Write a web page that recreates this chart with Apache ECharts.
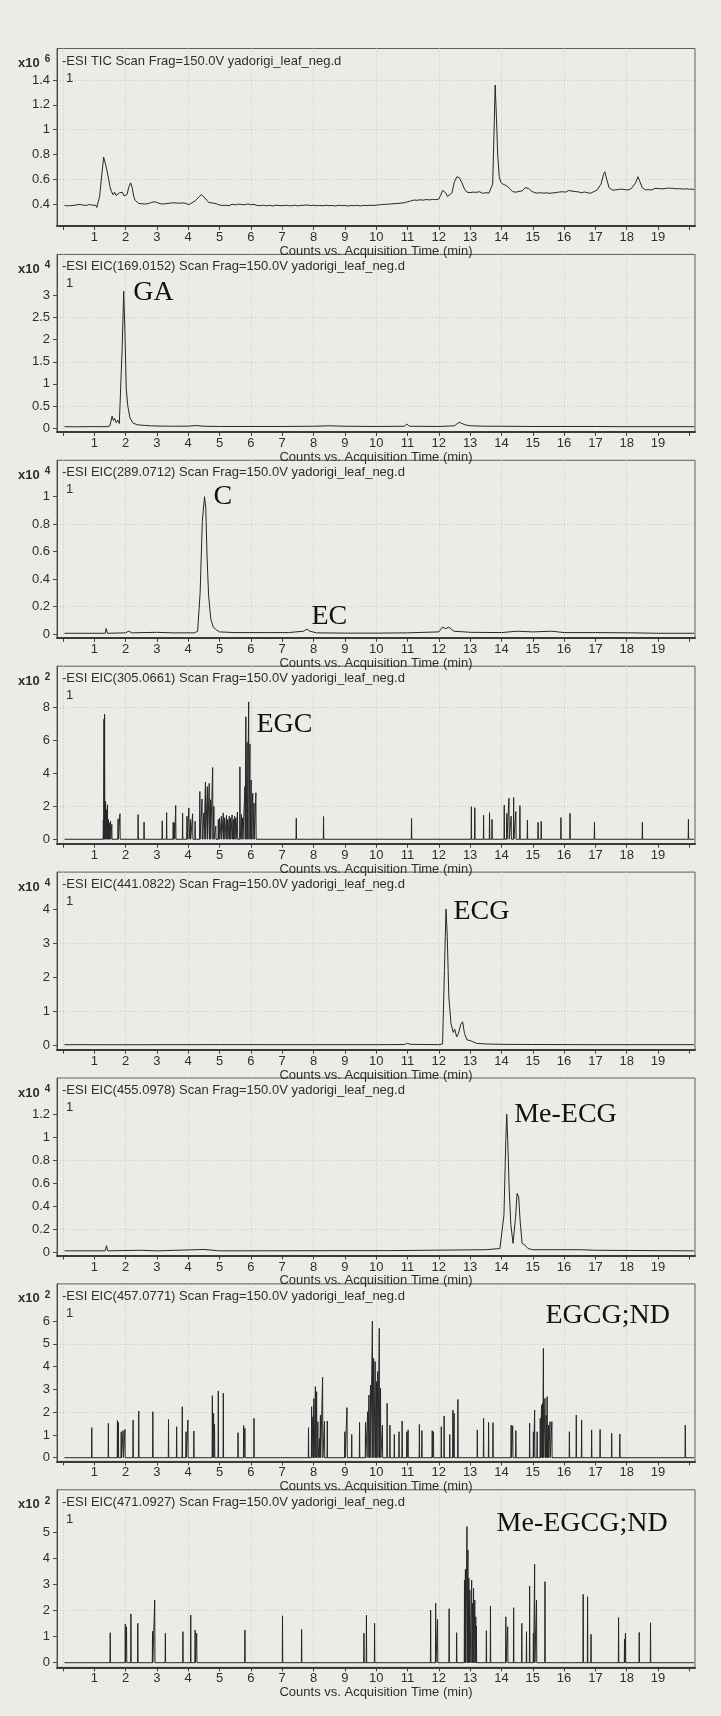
<!DOCTYPE html>
<html>
<head>
<meta charset="utf-8">
<script src="https://cdn.jsdelivr.net/npm/echarts@6/dist/echarts.min.js"></script>
<style>
  html, body { margin: 0; padding: 0; background: #ebebe7; }
  #chart { width: 721px; height: 1716px; }
</style>
</head>
<body>
<div id="chart"></div>
<script>
// ---- axis ticks and labels ----
const timeTicks = [0, 1, 2, 3, 4, 5, 6, 7, 8, 9, 10, 11, 12, 13, 14, 15, 16, 17, 18, 19, 20];
const timeLabels = [1, 2, 3, 4, 5, 6, 7, 8, 9, 10, 11, 12, 13, 14, 15, 16, 17, 18, 19];
const timeGridLines = [0, 2, 4, 6, 8, 10, 12, 14, 16, 18];
const timeExtent = [-0.19, 20.18];

const headers = [
  '-ESI TIC Scan Frag=150.0V yadorigi_leaf_neg.d',
  '-ESI EIC(169.0152) Scan Frag=150.0V yadorigi_leaf_neg.d',
  '-ESI EIC(289.0712) Scan Frag=150.0V yadorigi_leaf_neg.d',
  '-ESI EIC(305.0661) Scan Frag=150.0V yadorigi_leaf_neg.d',
  '-ESI EIC(441.0822) Scan Frag=150.0V yadorigi_leaf_neg.d',
  '-ESI EIC(455.0978) Scan Frag=150.0V yadorigi_leaf_neg.d',
  '-ESI EIC(457.0771) Scan Frag=150.0V yadorigi_leaf_neg.d',
  '-ESI EIC(471.0927) Scan Frag=150.0V yadorigi_leaf_neg.d'
];
const exponents = [6, 4, 4, 2, 4, 4, 2, 2];

const countTicks = [
  [0.4, 0.6, 0.8, 1, 1.2, 1.4],
  [0, 0.5, 1, 1.5, 2, 2.5, 3],
  [0, 0.2, 0.4, 0.6, 0.8, 1],
  [0, 2, 4, 6, 8],
  [0, 1, 2, 3, 4],
  [0, 0.2, 0.4, 0.6, 0.8, 1, 1.2],
  [0, 1, 2, 3, 4, 5, 6],
  [0, 1, 2, 3, 4, 5]
];
const countGridLines = [
  [0.6, 1.0, 1.4],
  [0.5, 1.5, 2.5],
  [0.2, 0.8],
  [2, 8],
  [1, 3],
  [0.2, 0.8],
  [2, 5],
  [2]
];
const countExtents = [
  [0.2226, 1.654],
  [-0.088, 3.933],
  [-0.028, 1.265],
  [-0.27, 10.52],
  [-0.114, 5.08],
  [-0.0305, 1.516],
  [-0.162, 7.63],
  [-0.176, 6.63]
];

// ---- traces: [time (min), counts] ----
const ticTrace = [
  [0.05,0.388],[0.1,0.393],[0.15,0.385],[0.2,0.392],[0.25,0.387],[0.3,0.395],[0.35,0.389],[0.4,0.384],[0.45,0.394],[0.5,0.39],[0.55,0.396],[0.6,0.386],[0.65,0.391],[0.7,0.395],[0.75,0.388],[0.8,0.393],[0.85,0.397],[0.9,0.387],[0.95,0.39],[1.0,0.383],[1.05,0.39],[1.08,0.372],[1.13,0.378],
  [1.17,0.46],[1.21,0.56],[1.25,0.66],[1.3,0.778],[1.34,0.74],[1.38,0.7],[1.42,0.65],[1.46,0.6],[1.5,0.54],[1.55,0.5],[1.6,0.475],[1.65,0.495],[1.7,0.468],[1.75,0.458],[1.8,0.49],[1.85,0.482],[1.9,0.494],[1.95,0.465],[2.0,0.455],[2.05,0.478],[2.1,0.535],[2.16,0.57],[2.21,0.535],[2.26,0.46],[2.31,0.428],
  [2.37,0.414],[2.42,0.405],[2.47,0.411],[2.52,0.402],[2.57,0.409],[2.62,0.4],[2.67,0.41],[2.72,0.403],[2.77,0.408],[2.82,0.412],[2.87,0.405],[2.92,0.418],[2.97,0.422],[3.02,0.41],[3.07,0.414],[3.12,0.402],[3.17,0.408],[3.22,0.4],[3.27,0.41],[3.32,0.404],[3.37,0.398],[3.42,0.407],[3.47,0.401],[3.52,0.41],[3.57,0.403],[3.62,0.408],[3.67,0.398],[3.72,0.406],[3.77,0.401],[3.82,0.409],[3.87,0.397],[3.92,0.405],[3.97,0.4],[4.02,0.395],[4.07,0.402],[4.12,0.41],[4.17,0.415],[4.22,0.425],
  [4.28,0.44],[4.34,0.457],[4.42,0.475],[4.5,0.458],[4.58,0.432],[4.66,0.412],[4.72,0.404],[4.78,0.408],[4.84,0.398],[4.9,0.402],
  [4.95,0.4],[5.0,0.392],[5.05,0.398],[5.1,0.388],[5.15,0.395],[5.2,0.39],[5.25,0.4],[5.3,0.386],[5.35,0.394],[5.4,0.398],[5.45,0.387],[5.5,0.393],[5.55,0.385],[5.6,0.399],[5.65,0.391],[5.7,0.396],[5.75,0.384],[5.8,0.394],[5.85,0.389],[5.9,0.4],[5.95,0.39],[6.0,0.395],[6.05,0.386],[6.1,0.397],[6.15,0.392],[6.2,0.388],[6.25,0.398],[6.3,0.387],[6.35,0.394],[6.4,0.39],[6.45,0.399],[6.5,0.385],[6.55,0.393],[6.6,0.39],[6.65,0.397],[6.7,0.384],[6.75,0.395],[6.8,0.39],[6.85,0.398],[6.9,0.388],[6.95,0.394],[7.0,0.386],[7.05,0.396],[7.1,0.39],[7.15,0.399],[7.2,0.387],[7.25,0.393],[7.3,0.385],[7.35,0.397],[7.4,0.391],[7.45,0.395],[7.5,0.384],[7.55,0.394],[7.6,0.389],[7.65,0.398],[7.7,0.39],[7.75,0.402],[7.8,0.392],[7.85,0.397],[7.9,0.387],[7.95,0.395],[8.0,0.39],[8.05,0.399],[8.1,0.386],[8.15,0.394],[8.2,0.389],[8.25,0.397],[8.3,0.385],[8.35,0.393],[8.4,0.39],[8.45,0.398],[8.5,0.386],[8.55,0.395],[8.6,0.388],[8.65,0.396],[8.7,0.384],[8.75,0.393],[8.8,0.39],[8.85,0.399],[8.9,0.387],[8.95,0.394],[9.0,0.389],[9.05,0.396],[9.1,0.383],[9.15,0.392],[9.2,0.388],[9.25,0.395],[9.3,0.386],[9.35,0.397],[9.4,0.39],[9.45,0.394],[9.5,0.384],[9.55,0.393],[9.6,0.389],[9.65,0.398],[9.7,0.387],[9.75,0.395],[9.8,0.39],[9.85,0.399],[9.9,0.388],[9.95,0.396],[10.0,0.391],[10.05,0.399],[10.1,0.393],[10.15,0.401],[10.2,0.396],
  [10.25,0.4],[10.3,0.397],[10.35,0.404],[10.4,0.399],[10.45,0.406],[10.5,0.401],[10.55,0.408],[10.6,0.403],[10.65,0.41],[10.7,0.405],[10.75,0.412],[10.8,0.407],[10.85,0.414],[10.9,0.41],[10.95,0.416],
  [11.0,0.418],[11.05,0.432],[11.1,0.424],[11.15,0.428],[11.2,0.432],[11.25,0.425],[11.3,0.43],[11.35,0.427],[11.4,0.434],[11.45,0.426],[11.5,0.431],[11.55,0.428],[11.6,0.436],[11.65,0.429],[11.7,0.433],[11.75,0.427],[11.8,0.437],[11.85,0.43],[11.9,0.435],[11.95,0.432],[12.0,0.44],
  [12.06,0.47],[12.12,0.51],[12.16,0.52],[12.22,0.49],[12.28,0.46],[12.34,0.45],[12.42,0.49],[12.5,0.58],[12.58,0.62],[12.66,0.61],[12.74,0.57],[12.82,0.52],
  [12.9,0.495],[12.95,0.488],[13.0,0.492],[13.05,0.485],[13.1,0.496],[13.15,0.489],[13.2,0.494],[13.25,0.487],[13.3,0.499],[13.35,0.49],[13.4,0.486],[13.45,0.495],[13.5,0.491],[13.55,0.497],[13.6,0.488],[13.66,0.5],
  [13.72,0.56],[13.76,0.95],[13.8,1.36],[13.84,1.1],[13.88,0.8],[13.93,0.62],[13.98,0.575],[14.05,0.56],[14.12,0.552],[14.2,0.54],[14.28,0.52],
  [14.36,0.5],[14.41,0.488],[14.46,0.495],[14.51,0.49],[14.56,0.502],[14.61,0.493],[14.66,0.505],[14.71,0.51],[14.76,0.532],[14.82,0.545],[14.87,0.525],
  [14.9,0.515],[14.95,0.505],[15.0,0.498],[15.05,0.492],[15.1,0.5],[15.15,0.488],[15.2,0.497],[15.25,0.491],[15.3,0.499],[15.35,0.487],[15.4,0.495],[15.45,0.49],[15.5,0.498],[15.55,0.486],[15.6,0.494],[15.65,0.49],[15.7,0.5],[15.75,0.492],[15.8,0.503],[15.85,0.497],[15.9,0.508],[15.95,0.499],[16.0,0.505],[16.05,0.496],[16.1,0.502],[16.15,0.509],[16.2,0.498],[16.25,0.504],[16.3,0.494],[16.35,0.5],[16.4,0.49],[16.45,0.498],[16.5,0.503],[16.55,0.491],[16.6,0.488],[16.65,0.497],[16.7,0.501],[16.75,0.49],[16.8,0.496],[16.85,0.487],[16.9,0.494],[16.95,0.5],[17.0,0.508],[17.05,0.512],[17.1,0.52],
  [17.18,0.56],[17.26,0.64],[17.3,0.66],[17.36,0.6],[17.44,0.53],
  [17.5,0.52],[17.55,0.512],[17.6,0.521],[17.65,0.514],[17.7,0.509],[17.75,0.518],[17.8,0.512],[17.85,0.52],[17.9,0.508],[17.95,0.515],[18.0,0.523],[18.05,0.514],[18.1,0.518],[18.15,0.525],[18.2,0.535],
  [18.28,0.57],[18.36,0.62],[18.42,0.58],
  [18.5,0.53],[18.55,0.52],[18.6,0.514],[18.65,0.522],[18.7,0.516],[18.75,0.524],[18.8,0.513],[18.85,0.52],[18.9,0.526],[18.95,0.518],[19.0,0.525],[19.05,0.516],[19.1,0.522],[19.15,0.53],[19.2,0.524],[19.25,0.534],[19.3,0.528],[19.35,0.52],[19.4,0.527],[19.45,0.518],[19.5,0.526],[19.55,0.515],[19.6,0.522],[19.65,0.517],[19.7,0.524],[19.75,0.514],[19.8,0.52],[19.85,0.516],[19.9,0.523],[19.95,0.513],[20.0,0.519],[20.05,0.512],[20.1,0.52],[20.15,0.516]
];

const gaTrace = [[0.05,0.03],[0.5,0.028],[1.0,0.032],[1.4,0.03],[1.5,0.05],[1.57,0.27],[1.61,0.17],[1.65,0.22],[1.7,0.12],[1.75,0.18],[1.8,0.1],[1.85,0.07],[1.89,1.8],[1.94,3.1],[1.98,2.15],[2.02,0.9],[2.07,0.5],[2.14,0.23],[2.24,0.11],[2.4,0.07],[2.6,0.06],[2.8,0.05],[3.0,0.045],[3.5,0.04],[4.0,0.042],[4.25,0.055],[4.5,0.04],[5.0,0.035],[6.0,0.035],[7.0,0.035],[8.0,0.04],[8.5,0.05],[9.0,0.04],[10.0,0.035],[10.9,0.04],[10.98,0.09],[11.06,0.04],[12.0,0.035],[12.5,0.05],[12.65,0.13],[12.75,0.1],[12.85,0.07],[13.0,0.05],[13.5,0.04],[14.0,0.04],[15.0,0.035],[16.0,0.035],[17.0,0.035],[18.0,0.03],[19.0,0.03],[20.15,0.03]];

const cTrace = [[0.05,0.005],[1.35,0.005],[1.38,0.04],[1.42,0.005],[2.0,0.008],[2.1,0.02],[2.2,0.008],[3.0,0.012],[3.5,0.008],[4.2,0.008],[4.3,0.02],[4.38,0.3],[4.45,0.82],[4.52,1.0],[4.56,0.92],[4.6,0.57],[4.65,0.28],[4.72,0.11],[4.8,0.05],[4.9,0.03],[5.0,0.015],[5.5,0.01],[6.5,0.01],[7.2,0.01],[7.68,0.02],[7.79,0.035],[7.88,0.02],[8.1,0.008],[9.0,0.006],[10.0,0.006],[11.0,0.008],[12.0,0.015],[12.12,0.05],[12.22,0.038],[12.32,0.05],[12.48,0.02],[13.0,0.012],[14.0,0.01],[14.5,0.02],[15.0,0.015],[15.6,0.02],[16.0,0.01],[17.0,0.01],[18.2,0.008],[19.0,0.005],[20.15,0.005]];

const egcSpikes = [[1.29,1.15],[1.31,7.3],[1.33,7.6],[1.36,2.3],[1.39,1.8],[1.42,2.1],[1.45,1.2],[1.48,1.0],[1.52,1.1],[1.56,0.9],[1.76,1.24],[1.82,1.55],[2.40,1.5],[2.59,1.05],[3.17,1.12],[3.31,1.62],[3.52,1.04],[3.56,1.0],[3.60,2.05],[3.82,1.58],[3.96,1.4],[4.02,1.9],[4.07,1.2],[4.14,1.55],[4.22,1.1],[4.37,2.9],[4.44,2.44],[4.50,1.6],[4.55,3.48],[4.61,3.2],[4.67,3.4],[4.71,2.4],[4.78,4.36],[4.82,2.0],[4.88,0.8],[4.96,1.2],[5.0,1.3],[5.06,1.4],[5.12,1.6],[5.16,1.3],[5.22,1.45],[5.26,1.2],[5.31,1.4],[5.35,1.3],[5.40,1.48],[5.44,1.2],[5.48,1.4],[5.52,1.3],[5.57,1.65],[5.65,4.4],[5.70,1.5],[5.74,1.3],[5.81,3.2],[5.84,7.45],[5.88,5.9],[5.93,8.35],[5.97,5.8],[6.01,3.6],[6.06,2.8],[6.10,2.2],[6.16,2.83],[7.45,1.28],[8.32,1.38],[11.13,1.26],[13.04,1.98],[13.15,1.92],[13.43,1.46],[13.62,1.62],[13.70,1.2],[14.09,2.08],[14.17,1.58],[14.24,2.49],[14.31,1.4],[14.39,2.53],[14.46,1.68],[14.59,2.04],[14.83,1.17],[15.17,1.03],[15.27,1.09],[15.90,1.32],[16.19,1.58],[16.97,1.03],[18.50,1.03],[19.97,1.21]];

const ecgTrace = [[0.05,0.03],[2.0,0.028],[5.0,0.032],[8.0,0.03],[10.0,0.03],[10.9,0.035],[11.0,0.07],[11.1,0.04],[12.0,0.03],[12.12,0.05],[12.18,2.2],[12.23,4.0],[12.27,3.2],[12.32,1.43],[12.39,0.65],[12.46,0.39],[12.51,0.48],[12.57,0.26],[12.63,0.36],[12.7,0.62],[12.76,0.7],[12.82,0.36],[12.9,0.17],[13.0,0.15],[13.08,0.12],[13.2,0.07],[13.5,0.05],[14.0,0.04],[15.0,0.035],[17.0,0.03],[20.15,0.03]];

const meEcgTrace = [[0.05,0.01],[1.35,0.01],[1.39,0.055],[1.43,0.01],[2.5,0.015],[3.0,0.01],[4.5,0.022],[5.0,0.01],[10.5,0.012],[13.5,0.02],[13.95,0.03],[14.08,0.32],[14.14,0.98],[14.17,1.2],[14.2,0.98],[14.25,0.53],[14.3,0.24],[14.37,0.075],[14.45,0.3],[14.5,0.51],[14.55,0.48],[14.6,0.26],[14.66,0.075],[14.75,0.06],[14.85,0.03],[15.0,0.02],[16.5,0.02],[17.0,0.015],[20.15,0.01]];

const egcgSpikes = [[0.92,1.32],[1.45,1.51],[1.74,1.63],[1.77,1.55],[1.86,1.14],[1.92,1.19],[1.98,1.24],[2.24,1.65],[2.42,2.05],[2.87,2.02],[3.37,1.68],[3.63,1.36],[3.81,2.24],[3.93,1.14],[3.99,1.65],[4.18,1.17],[4.77,2.72],[4.81,1.95],[4.84,1.46],[4.96,2.93],[5.12,2.83],[5.59,1.10],[5.77,1.41],[5.81,1.29],[6.10,1.73],[7.84,1.32],[7.94,2.24],[7.98,1.80],[8.01,2.6],[8.06,3.12],[8.10,2.9],[8.14,1.58],[8.19,0.85],[8.22,1.87],[8.29,3.53],[8.35,1.6],[8.44,1.61],[9.00,1.14],[9.07,2.2],[9.22,1.02],[9.47,1.55],[9.66,1.55],[9.73,2.02],[9.77,2.75],[9.82,3.19],[9.88,6.0],[9.92,4.36],[9.97,4.22],[10.01,3.34],[10.05,3.78],[10.10,5.68],[10.14,3.05],[10.20,1.43],[10.35,2.39],[10.44,1.43],[10.58,1.02],[10.73,1.14],[10.83,1.61],[10.98,1.14],[11.02,1.22],[11.38,1.46],[11.46,1.19],[11.79,1.19],[11.83,1.14],[12.08,1.36],[12.17,1.83],[12.35,1.02],[12.45,2.09],[12.49,1.95],[12.61,2.56],[13.23,1.22],[13.43,1.73],[13.59,1.55],[13.73,1.54],[14.31,1.43],[14.36,1.4],[14.46,1.19],[14.90,1.52],[15.02,1.14],[15.06,2.09],[15.14,1.14],[15.24,1.73],[15.28,2.31],[15.31,2.39],[15.34,4.8],[15.39,2.6],[15.43,1.87],[15.46,2.68],[15.50,1.43],[15.55,1.58],[15.61,1.58],[16.17,1.14],[16.39,1.87],[16.56,1.65],[16.88,1.22],[17.15,1.24],[17.52,1.07],[17.78,1.04],[19.87,1.43]];

const meEgcgSpikes = [[1.51,1.15],[1.99,1.48],[2.03,1.38],[2.17,1.87],[2.39,1.51],[2.86,1.2],[2.93,2.4],[3.27,1.13],[3.83,1.19],[4.08,1.83],[4.22,1.25],[4.27,1.13],[5.81,1.25],[7.01,1.80],[7.62,1.28],[9.61,1.13],[9.69,1.82],[9.95,1.51],[11.74,2.02],[11.90,2.28],[11.96,1.66],[12.33,2.07],[12.57,1.15],[12.82,3.17],[12.85,3.58],[12.90,5.22],[12.93,4.32],[12.96,3.24],[12.99,2.79],[13.05,3.17],[13.08,2.28],[13.11,2.85],[13.15,2.4],[13.18,1.76],[13.20,1.41],[13.52,1.23],[13.65,2.17],[14.14,1.76],[14.20,1.38],[14.39,2.11],[14.65,1.51],[14.80,1.19],[14.90,2.94],[15.02,1.13],[15.06,3.77],[15.12,2.4],[15.39,3.11],[16.61,2.62],[16.75,2.53],[16.86,1.09],[17.74,1.73],[17.93,0.9],[17.96,1.13],[18.40,1.16],[18.76,1.53]];

// ---- peak annotations: [text, time, counts] ----
const peakNames = [
  [],
  [['GA', 2.23, 3.07]],
  [['C', 4.79, 1.0], ['EC', 7.92, 0.124]],
  [['EGC', 6.16, 6.95]],
  [['ECG', 12.45, 3.91]],
  [['Me-ECG', 14.39, 1.198]],
  [['EGCG;ND', 15.39, 6.22]],
  [['Me-EGCG;ND', 13.83, 5.32]]
];

// spikes are narrow single-scan signals on a zero baseline
function spikeTrace(spikes) {
  const pts = [[0.05, 0]];
  spikes.forEach(function (s) {
    pts.push([s[0] - 0.008, 0], [s[0], s[1]], [s[0] + 0.008, 0]);
  });
  pts.push([20.15, 0]);
  return pts;
}

const traces = [
  ticTrace, gaTrace, cTrace, spikeTrace(egcSpikes),
  ecgTrace, meEcgTrace, spikeTrace(egcgSpikes), spikeTrace(meEgcgSpikes)
];

// ---- layout ----
const SANS = '"Liberation Sans", Arial, Helvetica, sans-serif';
const SERIF = '"Liberation Serif", "Times New Roman", serif';
const INK = '#2e2e2e';
const PANEL_TOP = 48.5, PANEL_STEP = 205.9, PANEL_H = 177.5;
const PLOT_LEFT = 57, PLOT_RIGHT = 26;

const grid = [], xAxis = [], yAxis = [], series = [], title = [];

traces.forEach(function (trace, i) {
  const top = PANEL_TOP + PANEL_STEP * i;
  grid.push({
    left: PLOT_LEFT, right: PLOT_RIGHT, top: top, height: PANEL_H,
    show: true, borderColor: '#5c5c5c', borderWidth: 1, backgroundColor: 'transparent'
  });

  // time axis with ticks and labels
  xAxis.push({
    type: 'value', gridIndex: i, min: timeExtent[0], max: timeExtent[1],
    axisLine: { show: true, onZero: false, lineStyle: { color: '#3a3a3a', width: 2 } },
    axisTick: { show: true, customValues: timeTicks, length: 4, lineStyle: { color: '#3a3a3a' } },
    axisLabel: { show: true, customValues: timeLabels, margin: 5, color: INK, fontSize: 13, fontFamily: SANS },
    splitLine: { show: false },
    name: 'Counts vs. Acquisition Time (min)', nameLocation: 'middle', nameGap: 16,
    nameTextStyle: { color: INK, fontSize: 13, fontFamily: SANS }
  });
  // faint dotted time grid
  xAxis.push({
    type: 'value', gridIndex: i, min: timeExtent[0], max: timeExtent[1], position: 'bottom',
    axisLine: { show: false }, axisLabel: { show: false },
    axisTick: { show: false, customValues: timeGridLines },
    splitLine: { show: true, lineStyle: { color: '#c9c9c5', type: [1, 2], width: 1 } }
  });

  yAxis.push({
    type: 'value', gridIndex: i, min: countExtents[i][0], max: countExtents[i][1],
    axisLine: { show: true, onZero: false, lineStyle: { color: '#4a4a4a', width: 1 } },
    axisTick: { show: true, customValues: countTicks[i], length: 4, lineStyle: { color: '#4a4a4a' } },
    axisLabel: { show: true, customValues: countTicks[i], margin: 7, color: INK, fontSize: 13, fontFamily: SANS },
    splitLine: { show: false }
  });
  yAxis.push({
    type: 'value', gridIndex: i, min: countExtents[i][0], max: countExtents[i][1],
    axisLine: { show: false }, axisLabel: { show: false },
    axisTick: { show: false, customValues: countGridLines[i] },
    splitLine: { show: true, lineStyle: { color: '#c6c6c2', type: [1, 2], width: 1 } }
  });

  series.push({
    type: 'line', xAxisIndex: 2 * i, yAxisIndex: 2 * i,
    data: trace, showSymbol: false, symbol: 'none', animation: false,
    lineStyle: { color: '#262626', width: 1 },
    markPoint: {
      symbol: 'circle', symbolSize: 1, silent: true, animation: false,
      itemStyle: { color: 'transparent' },
      label: {
        show: true, position: 'right', distance: 0, formatter: '{b}',
        color: '#111', fontSize: 28, fontFamily: SERIF
      },
      data: peakNames[i].map(function (p) { return { name: p[0], coord: [p[1], p[2]] }; })
    }
  });

  title.push({
    text: '{m|x10} {e|' + exponents[i] + '}', left: 18, top: top + 6, padding: 0,
    textStyle: {
      rich: {
        m: { fontSize: 13, color: INK, fontFamily: SANS, lineHeight: 15 },
        e: { fontSize: 10, color: INK, fontFamily: SANS, verticalAlign: 'top', lineHeight: 15, padding: [0, 0, 4, 0] }
      }
    }
  });
  title.push({
    text: headers[i], left: 62, top: top + 6, padding: 0,
    textStyle: { fontSize: 13, fontWeight: 'normal', color: INK, fontFamily: SANS }
  });
  title.push({
    text: '1', left: 66, top: top + 23, padding: 0,
    textStyle: { fontSize: 13, fontWeight: 'normal', color: INK, fontFamily: SANS }
  });
});

const chart = echarts.init(document.getElementById('chart'), null, { renderer: 'canvas', width: 721, height: 1716 });
chart.setOption({
  backgroundColor: '#ebebe7',
  animation: false,
  title: title,
  grid: grid,
  xAxis: xAxis,
  yAxis: yAxis,
  series: series
});
</script>
</body>
</html>
